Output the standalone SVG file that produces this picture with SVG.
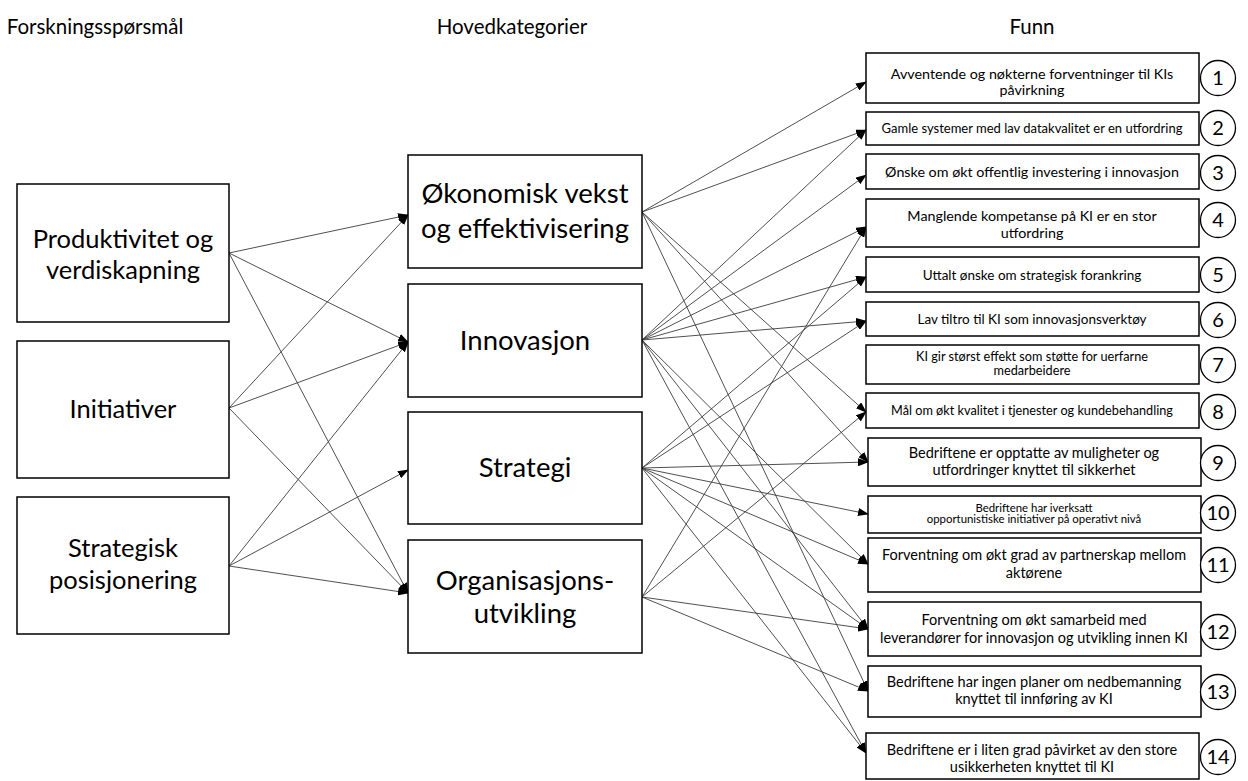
<svg xmlns="http://www.w3.org/2000/svg" width="1248" height="781" viewBox="0 0 1248 781">
<defs>
<style>
.box{fill:#fff;stroke:#000;stroke-width:1.5}
.t{font-family:Lato,"Liberation Sans",sans-serif;fill:#000;text-anchor:middle}
.h{font-size:20.5px}
.big{font-size:25.5px}
.mid{font-size:27.5px}
.s145{font-size:14.5px}
.s143{font-size:14.3px}
.s135{font-size:13.5px}
.s13{font-size:13px}
.s127{font-size:12.7px}
.s11{font-size:11.4px}
.num{font-size:20px}
.conn{stroke:#3c3c3c;stroke-width:0.9;fill:none;marker-end:url(#ah)}
.circ{fill:#fff;stroke:#000;stroke-width:1.3}
</style>
<marker id="ah" markerWidth="11" markerHeight="8" refX="10" refY="4" orient="auto" markerUnits="userSpaceOnUse">
<path d="M0,0 L11,4 L0,8 Z" fill="#000"/>
</marker>
</defs>
<rect width="1248" height="781" fill="#fff"/>

<g id="headers">
<text class="t h" x="95" y="34">Forskningsspørsmål</text>
<text class="t h" x="512" y="34">Hovedkategorier</text>
<text class="t h" x="1032" y="34">Funn</text>
</g>

<g id="connectors">
<line class="conn" x1="229" y1="253" x2="408" y2="215"/>
<line class="conn" x1="229" y1="253" x2="408" y2="342"/>
<line class="conn" x1="229" y1="253" x2="408" y2="593"/>
<line class="conn" x1="229" y1="408" x2="408" y2="215"/>
<line class="conn" x1="229" y1="408" x2="408" y2="342"/>
<line class="conn" x1="229" y1="408" x2="408" y2="593"/>
<line class="conn" x1="229" y1="566" x2="408" y2="342"/>
<line class="conn" x1="229" y1="566" x2="408" y2="470"/>
<line class="conn" x1="229" y1="566" x2="408" y2="593"/>

<line class="conn" x1="642" y1="212" x2="866" y2="82"/>
<line class="conn" x1="642" y1="212" x2="866" y2="130"/>
<line class="conn" x1="642" y1="212" x2="866" y2="412"/>
<line class="conn" x1="642" y1="212" x2="868" y2="462"/>
<line class="conn" x1="642" y1="212" x2="868" y2="691"/>

<line class="conn" x1="642" y1="340" x2="866" y2="130"/>
<line class="conn" x1="642" y1="340" x2="866" y2="175"/>
<line class="conn" x1="642" y1="340" x2="866" y2="227"/>
<line class="conn" x1="642" y1="340" x2="866" y2="277"/>
<line class="conn" x1="642" y1="340" x2="866" y2="321"/>
<line class="conn" x1="642" y1="340" x2="868" y2="564"/>
<line class="conn" x1="642" y1="340" x2="868" y2="629"/>
<line class="conn" x1="642" y1="340" x2="866" y2="753"/>

<line class="conn" x1="642" y1="468" x2="866" y2="277"/>
<line class="conn" x1="642" y1="468" x2="866" y2="321"/>
<line class="conn" x1="642" y1="468" x2="868" y2="462"/>
<line class="conn" x1="642" y1="468" x2="868" y2="514"/>
<line class="conn" x1="642" y1="468" x2="868" y2="564"/>
<line class="conn" x1="642" y1="468" x2="868" y2="629"/>
<line class="conn" x1="642" y1="468" x2="866" y2="753"/>

<line class="conn" x1="642" y1="597" x2="866" y2="227"/>
<line class="conn" x1="642" y1="597" x2="866" y2="412"/>
<line class="conn" x1="642" y1="597" x2="868" y2="629"/>
<line class="conn" x1="642" y1="597" x2="868" y2="691"/>
</g>

<g id="q1"><rect class="box" x="17" y="184" width="212" height="138"/>
<text class="t big" x="123" y="248">Produktivitet og</text><text class="t big" x="123" y="279">verdiskapning</text></g>
<g id="q2"><rect class="box" x="17" y="341" width="212" height="137"/>
<text class="t big" x="123" y="418">Initiativer</text></g>
<g id="q3"><rect class="box" x="17" y="497" width="212" height="137"/>
<text class="t big" x="123" y="557">Strategisk</text><text class="t big" x="123" y="589">posisjonering</text></g>

<g id="k1"><rect class="box" x="408" y="155" width="234" height="113"/>
<text class="t mid" x="525" y="203">Økonomisk vekst</text><text class="t mid" x="525" y="238">og effektivisering</text></g>
<g id="k2"><rect class="box" x="408" y="284" width="234" height="113"/>
<text class="t mid" x="525" y="350">Innovasjon</text></g>
<g id="k3"><rect class="box" x="408" y="412" width="234" height="112"/>
<text class="t mid" x="525" y="477">Strategi</text></g>
<g id="k4"><rect class="box" x="408" y="540" width="234" height="113"/>
<text class="t mid" x="525" y="590">Organisasjons-</text><text class="t mid" x="525" y="623">utvikling</text></g>

<g id="f1"><rect class="box" x="866" y="53" width="333" height="50"/>
<text class="t s143" x="1032" y="79">Avventende og nøkterne forventninger til KIs</text><text class="t s143" x="1032" y="95">påvirkning</text>
<circle class="circ" cx="1218" cy="78" r="17.5"/><text class="t num" x="1218" y="85">1</text></g>
<g id="f2"><rect class="box" x="866" y="112" width="333" height="33"/>
<text class="t s13" x="1032" y="133">Gamle systemer med lav datakvalitet er en utfordring</text>
<circle class="circ" cx="1218" cy="128" r="17.5"/><text class="t num" x="1218" y="135">2</text></g>
<g id="f3"><rect class="box" x="866" y="154" width="333" height="35"/>
<text class="t s143" x="1032" y="177">Ønske om økt offentlig investering i innovasjon</text>
<circle class="circ" cx="1218" cy="173" r="17.5"/><text class="t num" x="1218" y="180">3</text></g>
<g id="f4"><rect class="box" x="866" y="199" width="333" height="48"/>
<text class="t s143" x="1032" y="221">Manglende kompetanse på KI er en stor</text><text class="t s143" x="1032" y="238">utfordring</text>
<circle class="circ" cx="1218" cy="220" r="17.5"/><text class="t num" x="1218" y="227">4</text></g>
<g id="f5"><rect class="box" x="866" y="257" width="333" height="35"/>
<text class="t s135" x="1032" y="280">Uttalt ønske om strategisk forankring</text>
<circle class="circ" cx="1218" cy="275" r="17.5"/><text class="t num" x="1218" y="282">5</text></g>
<g id="f6"><rect class="box" x="866" y="302" width="333" height="34"/>
<text class="t s135" x="1032" y="324">Lav tiltro til KI som innovasjonsverktøy</text>
<circle class="circ" cx="1218" cy="320" r="17.5"/><text class="t num" x="1218" y="327">6</text></g>
<g id="f7"><rect class="box" x="866" y="345" width="333" height="39"/>
<text class="t s127" x="1032" y="361">KI gir størst effekt som støtte for uerfarne</text><text class="t s127" x="1032" y="375">medarbeidere</text>
<circle class="circ" cx="1218" cy="365" r="17.5"/><text class="t num" x="1218" y="372">7</text></g>
<g id="f8"><rect class="box" x="866" y="393" width="333" height="35"/>
<text class="t s127" x="1032" y="415">Mål om økt kvalitet i tjenester og kundebehandling</text>
<circle class="circ" cx="1218" cy="412" r="17.5"/><text class="t num" x="1218" y="419">8</text></g>
<g id="f9"><rect class="box" x="868" y="438" width="333" height="48"/>
<text class="t s145" x="1034" y="458">Bedriftene er opptatte av muligheter og</text><text class="t s145" x="1034" y="475">utfordringer knyttet til sikkerhet</text>
<circle class="circ" cx="1218" cy="463" r="17.5"/><text class="t num" x="1218" y="470">9</text></g>
<g id="f10"><rect class="box" x="868" y="496" width="333" height="37"/>
<text class="t s11" x="1034" y="512">Bedriftene har iverksatt</text><text class="t s11" x="1034" y="523">opportunistiske initiativer på operativt nivå</text>
<circle class="circ" cx="1218" cy="513" r="17.5"/><text class="t num" x="1218" y="520">10</text></g>
<g id="f11"><rect class="box" x="868" y="538" width="333" height="54"/>
<text class="t s145" x="1034" y="560">Forventning om økt grad av partnerskap mellom</text><text class="t s145" x="1034" y="578">aktørene</text>
<circle class="circ" cx="1218" cy="565" r="17.5"/><text class="t num" x="1218" y="572">11</text></g>
<g id="f12"><rect class="box" x="868" y="602" width="333" height="54"/>
<text class="t s145" x="1034" y="625">Forventning om økt samarbeid med</text><text class="t s145" x="1034" y="643">leverandører for innovasjon og utvikling innen KI</text>
<circle class="circ" cx="1218" cy="632" r="17.5"/><text class="t num" x="1218" y="639">12</text></g>
<g id="f13"><rect class="box" x="868" y="666" width="333" height="51"/>
<text class="t s145" x="1034" y="687">Bedriftene har ingen planer om nedbemanning</text><text class="t s145" x="1034" y="704">knyttet til innføring av KI</text>
<circle class="circ" cx="1218" cy="692" r="17.5"/><text class="t num" x="1218" y="699">13</text></g>
<g id="f14"><rect class="box" x="866" y="733" width="333" height="46"/>
<text class="t s145" x="1032" y="755">Bedriftene er i liten grad påvirket av den store</text><text class="t s145" x="1032" y="772">usikkerheten knyttet til KI</text>
<circle class="circ" cx="1218" cy="757" r="17.5"/><text class="t num" x="1218" y="764">14</text></g>
</svg>
